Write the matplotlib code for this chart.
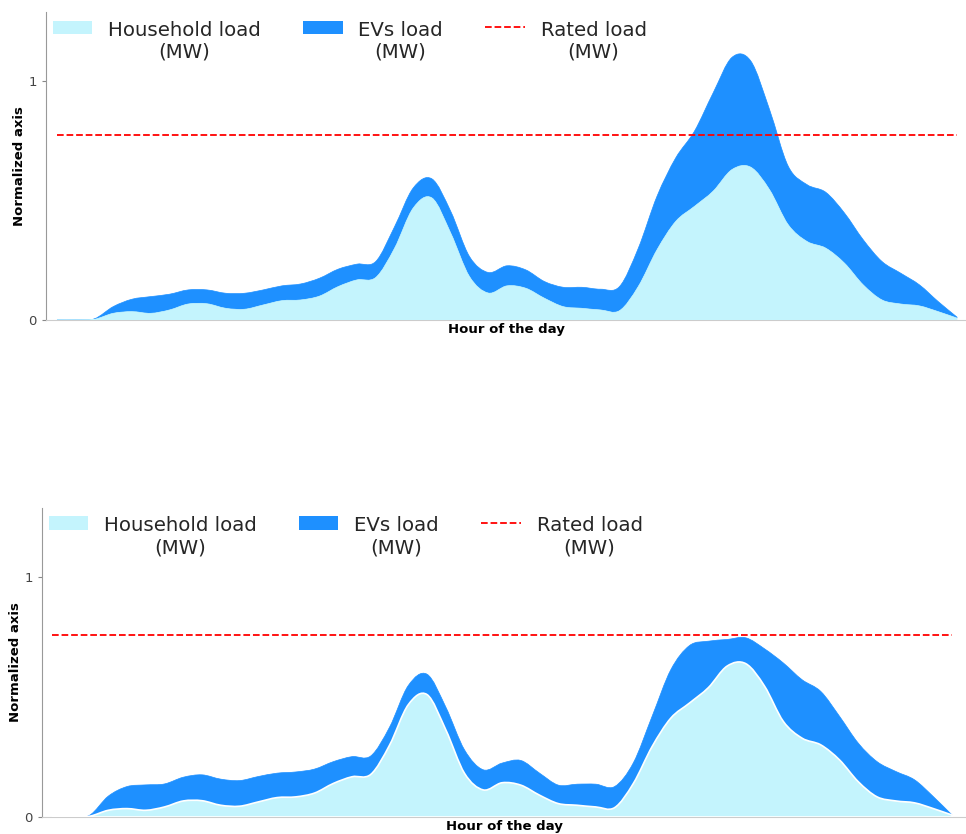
import matplotlib
matplotlib.use("Agg")
import matplotlib.pyplot as plt
import numpy as np
from matplotlib.path import Path
from matplotlib.patches import PathPatch, Patch
from matplotlib.lines import Line2D

# half-hour readings, hour 0 .. 24
hours = [i / 2 for i in range(49)]

household = [0, 0, 0.003, 0.028, 0.035, 0.028, 0.042, 0.067, 0.068, 0.049,
             0.045, 0.063, 0.081, 0.084, 0.100, 0.140, 0.168, 0.178, 0.300, 0.469,
             0.511, 0.364, 0.182, 0.113, 0.143, 0.133, 0.091, 0.056, 0.049, 0.042,
             0.039, 0.140, 0.294, 0.413, 0.476, 0.540, 0.630, 0.640, 0.546, 0.399,
             0.329, 0.301, 0.238, 0.147, 0.084, 0.067, 0.059, 0.035, 0.008]

ev_before = [0, 0, 0.002, 0.028, 0.052, 0.070, 0.066, 0.059, 0.058, 0.063,
             0.067, 0.063, 0.062, 0.067, 0.075, 0.073, 0.066, 0.067, 0.090, 0.084,
             0.080, 0.091, 0.084, 0.086, 0.084, 0.077, 0.070, 0.081, 0.088, 0.087,
             0.101, 0.160, 0.224, 0.266, 0.315, 0.412, 0.470, 0.445, 0.336, 0.245,
             0.238, 0.234, 0.210, 0.189, 0.161, 0.129, 0.088, 0.042, 0.004]

ev_after = [0, 0, 0.004, 0.059, 0.092, 0.106, 0.096, 0.099, 0.108, 0.109,
            0.107, 0.106, 0.102, 0.104, 0.100, 0.091, 0.084, 0.077, 0.075, 0.080,
            0.085, 0.095, 0.098, 0.084, 0.082, 0.103, 0.092, 0.077, 0.088, 0.095,
            0.088, 0.086, 0.126, 0.202, 0.240, 0.194, 0.111, 0.108, 0.156, 0.244,
            0.244, 0.223, 0.182, 0.161, 0.147, 0.123, 0.096, 0.050, 0.0]

rated = [0.774, 0.76]

labels = ["Household load\n(MW)", "EVs load\n(MW)", "Rated load\n(MW)"]
c_house = "#c4f4fd"
c_ev = "#1e90ff"


def smooth(x, y):
    # cubic bezier through the points, tangents from central differences
    x = np.asarray(x, float)
    y = np.asarray(y, float)
    m = np.gradient(y, x)
    verts = [(x[0], y[0])]
    codes = [Path.MOVETO]
    for i in range(len(x) - 1):
        d = (x[i + 1] - x[i]) / 3
        verts += [(x[i] + d, y[i] + d * m[i]),
                  (x[i + 1] - d, y[i + 1] - d * m[i + 1]),
                  (x[i + 1], y[i + 1])]
        codes += [Path.CURVE4] * 3
    return verts, codes


def band(ax, x, lower, upper, **kw):
    x = np.asarray(x, float)
    v1, c1 = smooth(x, upper)
    v2, c2 = smooth(x[::-1], np.asarray(lower, float)[::-1])
    c2[0] = Path.LINETO
    p = Path(v1 + v2 + [v1[0]], c1 + c2 + [Path.CLOSEPOLY])
    ax.add_patch(PathPatch(p, **kw))


fig = plt.figure(figsize=(9.66, 8.34), dpi=100)
ax1 = fig.add_axes([46 / 966, 1 - 320 / 834, 920 / 966, 308 / 834])
ax2 = fig.add_axes([42 / 966, 1 - 817 / 834, 924 / 966, 309 / 834])

setups = [(ax1, ev_before, rated[0], (-0.293, 24.24), False),
          (ax2, ev_after, rated[1], (-0.267, 24.37), True)]

for ax, ev, r, xl, white_edge in setups:
    h = np.asarray(household)
    total = h + np.asarray(ev)
    zero = np.zeros_like(h)
    band(ax, hours, h, total, facecolor=c_ev, edgecolor=c_ev, lw=0.5, zorder=2)
    if white_edge:
        band(ax, hours, zero, h, facecolor=c_house, edgecolor="white", lw=1.2, zorder=3)
    else:
        band(ax, hours, zero, h, facecolor=c_house, edgecolor=c_house, lw=0.5, zorder=3)
    ax.plot([hours[0], hours[-1]], [r, r], color="red", ls="--", lw=1.3, zorder=4)

    ax.set_xlim(*xl)
    ax.set_ylim(0, 1.29)
    ax.set_yticks([0, 1])
    ax.set_yticklabels(["0", "1"], fontsize=9.5, color="#444444")
    ax.set_xticks([])
    ax.tick_params(axis="y", length=3, color="#888888")
    for s in ["top", "right"]:
        ax.spines[s].set_visible(False)
    ax.spines["left"].set_color("#999999")
    ax.spines["bottom"].set_color("#cccccc")
    ax.set_ylabel("Normalized axis", fontsize=9.5, fontweight="bold", labelpad=2)
    ax.set_xlabel("Hour of the day", fontsize=9.5, fontweight="bold", labelpad=2)

    handles = [Patch(facecolor=c_house), Patch(facecolor=c_ev),
               Line2D([], [], color="red", ls="--", lw=1.3)]
    leg = ax.legend(handles, labels, loc="upper left", bbox_to_anchor=(-0.012, 1.03),
                    ncol=3, frameon=False, fontsize=14.2, handlelength=2.0,
                    columnspacing=2.15, handletextpad=0.8)
    for t in leg.get_texts():
        t.set_multialignment("center")
        t.set_color("#262626")
    # keep the legend keys level with the first text line
    for col in leg._legend_handle_box.get_children():
        for row in col.get_children():
            row.align = "top"

fig.savefig("out.png", dpi=100)
